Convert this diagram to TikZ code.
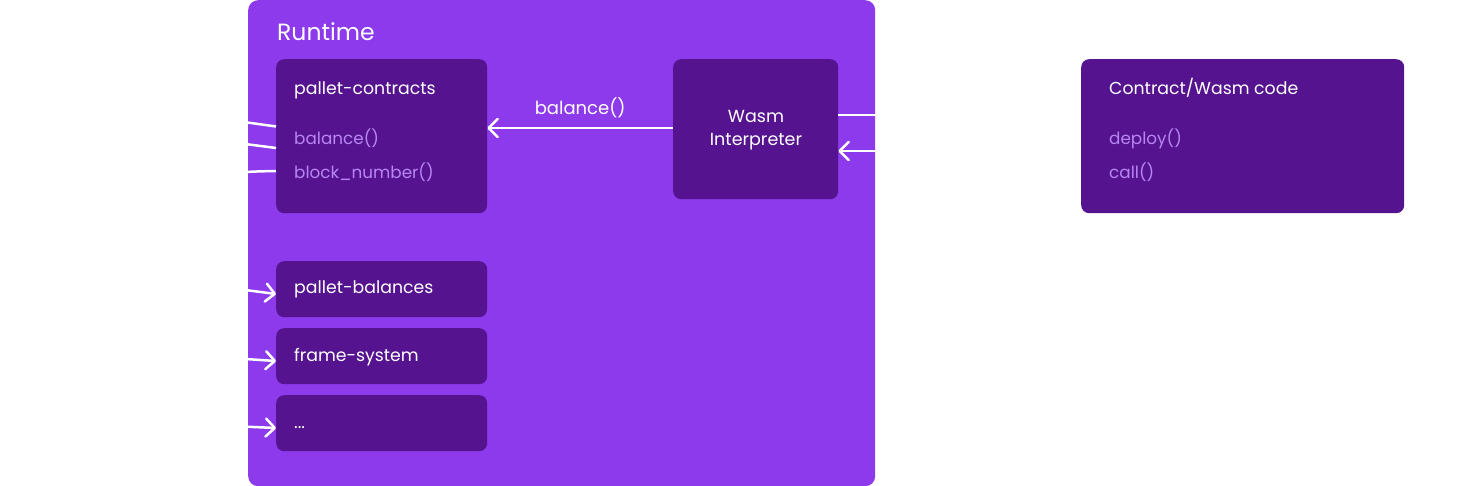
\documentclass[tikz,border=0pt]{standalone}
\usepackage{fontspec}
\setmainfont{Poppins}
\usetikzlibrary{arrows.meta}
\definecolor{runtimebg}{RGB}{140,58,235}
\definecolor{boxbg}{RGB}{86,19,143}
\definecolor{subtext}{RGB}{183,134,242}
\tikzset{
  darkbox/.style={fill=boxbg,draw=none,rounded corners=8pt},
  title/.style={anchor=base west,text=white,inner sep=0pt,font=\fontsize{17.3}{20}\selectfont},
  item/.style={anchor=base west,text=subtext,inner sep=0pt,font=\fontsize{16.8}{20}\selectfont},
  conn/.style={draw=white,line width=2.5pt},
  arr/.style={conn,-{Straight Barb[length=9pt,width=18pt,line width=2.5pt,round]}},
}
\begin{document}
\begin{tikzpicture}[x=1pt,y=-1pt]
\useasboundingbox (0,0) rectangle (1459,486);
\fill[white] (0,0) rectangle (1459,486);
% Runtime
\node[fill=runtimebg,rounded corners=10pt,minimum width=627pt,minimum height=486pt,inner sep=0pt,anchor=north west] (runtime) at (248,0) {};
\node[anchor=base west,text=white,inner sep=0pt,font=\fontsize{23.5}{26}\selectfont] (rtlabel) at (277,41) {Runtime};
% pallet-contracts
\node[darkbox,minimum width=211pt,minimum height=154pt,inner sep=0pt,anchor=north west] (pc) at (276,59) {};
\node[title] (pct) at (294,95) {pallet-contracts};
\node[item] (pcb) at (294,145) {balance()};
\node[item] (pcn) at (294,179) {block\_number()};
% Wasm interpreter
\node[darkbox,minimum width=165pt,minimum height=140pt,inner sep=0pt,anchor=north west] (wasm) at (673,59) {};
\node[text=white,align=center,inner sep=0pt,font=\fontsize{17.5}{23}\selectfont] (wasmt) at (756,130) {Wasm\\Interpreter};
% other pallets
\node[darkbox,minimum width=211pt,minimum height=56pt,inner sep=0pt,anchor=north west] (pb) at (276,261) {};
\node[title] (pbt) at (294,294) {pallet-balances};
\node[darkbox,minimum width=211pt,minimum height=56pt,inner sep=0pt,anchor=north west] (fs) at (276,328) {};
\node[title] (fst) at (294,361) {frame-system};
\node[darkbox,minimum width=211pt,minimum height=56pt,inner sep=0pt,anchor=north west] (dots) at (276,395) {};
\node[title] (dotst) at (294,428) {...};
% contract box
\node[darkbox,minimum width=323pt,minimum height=154pt,inner sep=0pt,anchor=north west] (cw) at (1081,59) {};
\node[title] (cwt) at (1109,95) {Contract/Wasm code};
\node[item] (cwd) at (1109,145) {deploy()};
\node[item] (cwc) at (1109,179) {call()};
% connectors
\draw[arr] (wasm.west |- 0,128) -- (pc.east |- 0,128) node[midway,above=6pt,text=white,font=\fontsize{18}{20}\selectfont] (lbl) {balance()};
\coordinate (c1) at (1081,115);
\coordinate (c2) at (1081,151);
\draw[conn] (wasm.east |- c1) -- (c1);
\draw[arr] (c2) -- (wasm.east |- c2);
% left incoming lines
\coordinate (l1) at (180,116);
\coordinate (l2) at (180,138);
\coordinate (l3) at (180,190);
\draw[conn] (l1) .. controls (230,120) .. (pc.west |- 0,126.5);
\draw[conn] (l2) .. controls (230,142) .. (pc.west |- 0,148);
\draw[conn] (l3) .. controls (230,172) .. (pc.west |- 0,171);
\coordinate (l4) at (180,284);
\coordinate (l5) at (180,354);
\coordinate (l6) at (180,423);
\draw[arr] (l4) .. controls (230,288) .. (pb.west |- 0,294);
\draw[arr] (l5) .. controls (230,358) .. (fs.west |- 0,361);
\draw[arr] (l6) .. controls (230,426) .. (dots.west |- 0,428);
\end{tikzpicture}
\end{document}
